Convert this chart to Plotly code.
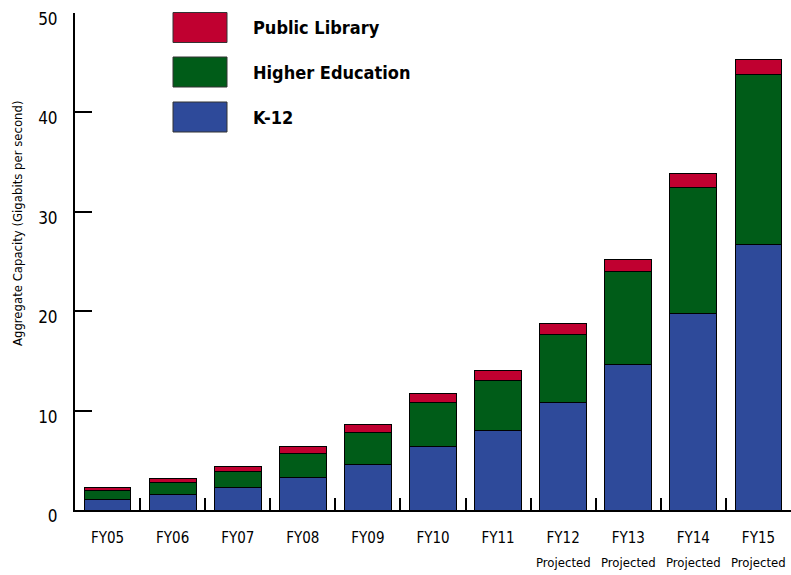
import plotly.graph_objects as go

categories = ["FY05", "FY06", "FY07", "FY08", "FY09", "FY10", "FY11", "FY12", "FY13", "FY14", "FY15"]
projected = [False, False, False, False, False, False, False, True, True, True, True]
k12 = [1.08, 1.58, 2.31, 3.29, 4.60, 6.41, 8.02, 10.83, 14.62, 19.79, 26.73]
higher_ed = [0.90, 1.21, 1.61, 2.41, 3.22, 4.39, 4.96, 6.87, 9.35, 12.64, 17.13]
public_lib = [0.30, 0.40, 0.47, 0.71, 0.83, 0.90, 1.10, 1.08, 1.23, 1.40, 1.47]
y_ticks = [0, 10, 20, 30, 40, 50]

series = [
    ("K-12", k12, "#2E4A9A"),
    ("Higher Education", higher_ed, "#005C18"),
    ("Public Library", public_lib, "#C00030"),
]

FONT = "DejaVu Sans Condensed"

fig = go.Figure()
for name, vals, col in series:
    fig.add_trace(go.Bar(
        x=categories, y=vals, name=name,
        marker=dict(color=col, line=dict(color="#000000", width=1)),
        showlegend=False,
    ))

W, H = 791, 575
L, R, T, B = 75, 0, 13, 65
pw = W - L - R
ph = H - T - B

def px_x(x):
    return (x - L) / pw

def px_y(y):
    return (H - B - y) / ph

shapes = []
annotations = []
legend_items = [("Public Library", "#C00030", 12.5), ("Higher Education", "#005C18", 57), ("K-12", "#2E4A9A", 102)]
for label, col, top in legend_items:
    shapes.append(dict(type="rect", xref="paper", yref="paper",
                       x0=px_x(173), x1=px_x(227), y0=px_y(top + 30), y1=px_y(top),
                       fillcolor=col, line=dict(color="#333333", width=1)))
    annotations.append(dict(xref="paper", yref="paper", x=px_x(251), y=px_y(top + 15),
                            text="<b>%s</b>" % label, showarrow=False, xanchor="left", yanchor="middle",
                            font=dict(family=FONT, size=18, color="#000000")))

for cat, p in zip(categories, projected):
    if p:
        annotations.append(dict(xref="x", yref="paper", x=cat, y=px_y(562),
                                text="Projected", showarrow=False, xanchor="center", yanchor="middle",
                                font=dict(family=FONT, size=13, color="#000000")))

annotations.append(dict(xref="paper", yref="paper", x=px_x(17), y=px_y(224),
                        text="Aggregate Capacity (Gigabits per second)", showarrow=False,
                        textangle=-90, xanchor="center", yanchor="middle",
                        font=dict(family=FONT, size=13, color="#000000")))

fig.update_layout(
    barmode="stack",
    bargap=0.28,
    width=W, height=H,
    margin=dict(l=L, r=R, t=T, b=B, pad=0),
    paper_bgcolor="white", plot_bgcolor="white",
    font=dict(family=FONT, color="#000000"),
    shapes=shapes,
    annotations=annotations,
    hovermode=False,
    xaxis=dict(
        type="category",
        showline=True, linecolor="#000000", linewidth=2,
        ticks="inside", tickson="boundaries", ticklen=12, tickcolor="#000000", tickwidth=2,
        tickfont=dict(family=FONT, size=15, color="#000000"),
        showgrid=False, zeroline=False,
        ticklabelstandoff=13,
    ),
    yaxis=dict(
        range=[0, 50],
        tickvals=y_ticks,
        showline=True, linecolor="#000000", linewidth=2,
        ticks="inside", ticklen=17, tickcolor="#000000", tickwidth=2,
        tickfont=dict(family=FONT, size=17, color="#000000"),
        showgrid=False, zeroline=False,
        ticklabelstandoff=12,
        ticklabelshift=6,
    ),
)

fig.write_html("out.html",
               config={"displayModeBar": False, "staticPlot": True},
               post_script="document.body.style.margin='0';document.body.style.overflow='hidden';")
